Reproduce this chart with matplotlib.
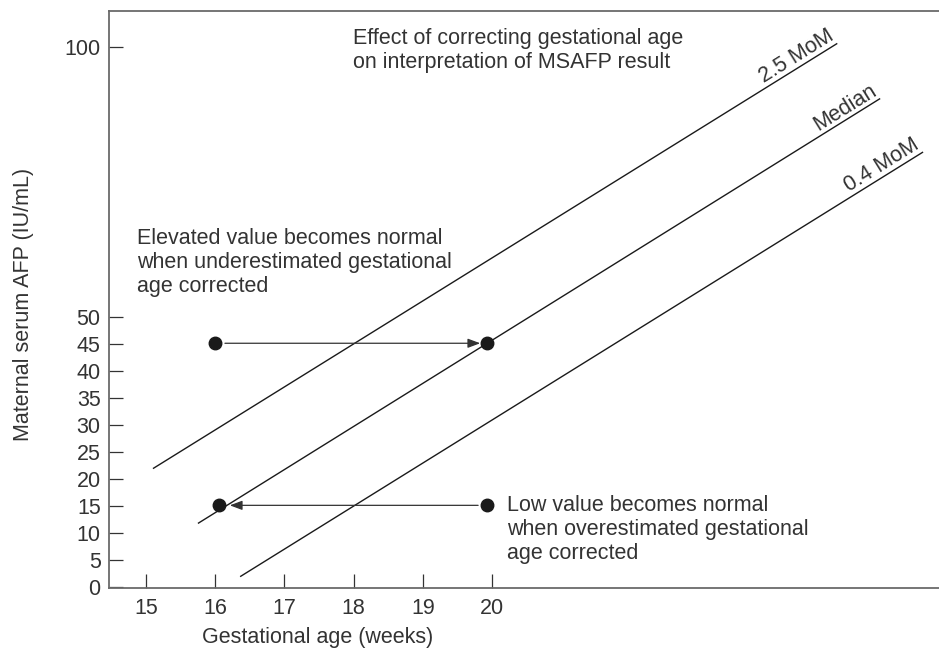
import numpy as np
import matplotlib
matplotlib.use("Agg")
import matplotlib.pyplot as plt

plt.rcParams["font.family"] = ["Liberation Sans", "DejaVu Sans"]
plt.rcParams["font.size"] = 15.5

# axis ticks
week_ticks = [15, 16, 17, 18, 19, 20]
afp_ticks = [0, 5, 10, 15, 20, 25, 30, 35, 40, 45, 50, 100]

# reference lines, start and end point (weeks, IU/mL)
mom25_x = [15.10, 24.99]
mom25_y = [22.0, 100.7]
median_x = [15.75, 25.61]
median_y = [11.85, 90.5]
mom04_x = [16.36, 26.23]
mom04_y = [2.0, 80.6]
line_labels = ["2.5 MoM", "Median", "0.4 MoM"]

# elevated value: dated 16 wk, corrected to ~20 wk
elev_x = [16.0, 19.93]
elev_y = [45.2, 45.2]
# low value: dated ~20 wk, corrected to 16 wk
low_x = [19.93, 16.05]
low_y = [15.2, 15.2]

txt_col = "#333333"
ax_col = "#6a6a6a"

fig = plt.figure(figsize=(9.39, 6.55), dpi=100)
ax = fig.add_axes([109 / 939, 1 - 588 / 655, 1 - 109 / 939, 577 / 655])
ax.set_xlim(14.465, 26.46)
ax.set_ylim(-0.1, 106.7)

for s in ["left", "top", "bottom"]:
    ax.spines[s].set_color(ax_col)
    ax.spines[s].set_linewidth(1.3)
ax.spines["right"].set_visible(False)

ax.set_xticks(week_ticks)
ax.set_yticks(afp_ticks)
ax.tick_params(direction="in", length=10, width=0.9, color="#333333",
               labelcolor=txt_col, labelsize=15.5, pad=7)
ax.tick_params(axis="y", pad=6)

ax.set_xlabel("Gestational age (weeks)", color=txt_col, fontsize=15.5)
ax.xaxis.set_label_coords((318 - 109) / 830, -(627 - 588) / 577)
ax.set_ylabel("Maternal serum AFP (IU/mL)", color=txt_col, fontsize=15.5)
ax.yaxis.set_label_coords((34 - 109) / 830, (587.5 - 304) / 576)

lines = [(mom25_x, mom25_y), (median_x, median_y), (mom04_x, mom04_y)]
for (lx, ly), lab in zip(lines, line_labels):
    ax.plot(lx, ly, color="#1a1a1a", lw=1.0, solid_capstyle="butt")
    p0 = ax.transData.transform((lx[0], ly[0]))
    p1 = ax.transData.transform((lx[1], ly[1]))
    ang = np.degrees(np.arctan2(p1[1] - p0[1], p1[0] - p0[0]))
    ax.text(lx[1], ly[1], lab, rotation=ang, rotation_mode="anchor",
            ha="right", va="bottom", color=txt_col, fontsize=15.5)

# dots and arrows
ax.plot(elev_x, elev_y, "o", color="#1a1a1a", ms=9, ls="none")
ax.plot(low_x, low_y, "o", color="#1a1a1a", ms=9, ls="none")
arrow_kw = dict(arrowstyle="-|>,head_length=0.75,head_width=0.28",
                color="#333333", lw=0.9, mutation_scale=10)
ax.annotate("", xy=(elev_x[1], elev_y[1]), xytext=(elev_x[0], elev_y[0]),
            arrowprops=dict(shrinkA=7, shrinkB=5, **arrow_kw))
ax.annotate("", xy=(low_x[1], low_y[1]), xytext=(low_x[0], low_y[0]),
            arrowprops=dict(shrinkA=6.5, shrinkB=8, **arrow_kw))

# notes (anchored on the baseline of the last line)
ax.text(353 / 939, 1 - 68 / 655,
        "Effect of correcting gestational age\non interpretation of MSAFP result",
        transform=fig.transFigure, ha="left", va="baseline", color=txt_col,
        linespacing=1.2)
ax.text(137 / 939, 1 - 292 / 655,
        "Elevated value becomes normal\nwhen underestimated gestational\nage corrected",
        transform=fig.transFigure, ha="left", va="baseline", color=txt_col,
        linespacing=1.2)
ax.text(507 / 939, 1 - 559 / 655,
        "Low value becomes normal\nwhen overestimated gestational\nage corrected",
        transform=fig.transFigure, ha="left", va="baseline", color=txt_col,
        linespacing=1.2)

fig.savefig("out.png", dpi=100)
